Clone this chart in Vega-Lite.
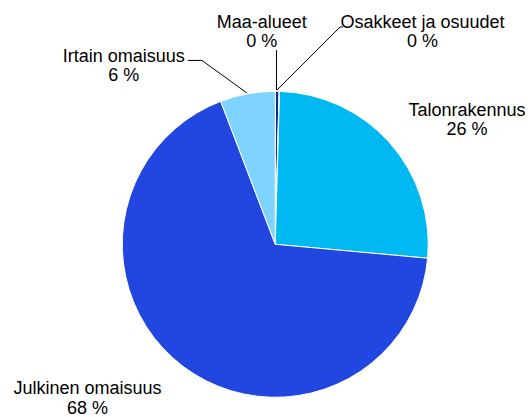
{
  "$schema": "https://vega.github.io/schema/vega-lite/v6.json",
  "width": 530,
  "height": 417,
  "padding": 0,
  "autosize": {"type": "none"},
  "config": {"view": {"stroke": null}, "text": {"font": "Liberation Sans", "fontSize": 18, "lineHeight": 19.5, "lineBreak": "\n", "color": "#000000"}},
  "data": {"values": [
    {"category": "Maa-alueet", "value": 0.4, "ord": 1},
    {"category": "Osakkeet ja osuudet", "value": 0.05, "ord": 2},
    {"category": "Talonrakennus", "value": 26.0, "ord": 3},
    {"category": "Julkinen omaisuus", "value": 67.75, "ord": 4},
    {"category": "Irtain omaisuus", "value": 5.8, "ord": 5}
  ]},
  "encoding": {
    "x": {"datum": 0, "type": "quantitative", "scale": {"domain": [-1.799, 1.665], "nice": false, "zero": false}, "axis": null},
    "y": {"datum": 0, "type": "quantitative", "scale": {"domain": [-1.129, 1.597], "nice": false, "zero": false}, "axis": null}
  },
  "layer": [
    {
      "mark": {"type": "arc", "outerRadius": 153, "stroke": "#ffffff", "strokeWidth": 1},
      "encoding": {
        "theta": {"field": "value", "type": "quantitative", "stack": true},
        "order": {"field": "ord", "type": "quantitative"},
        "color": {"field": "category", "type": "nominal", "legend": null,
          "scale": {"domain": ["Maa-alueet", "Osakkeet ja osuudet", "Talonrakennus", "Julkinen omaisuus", "Irtain omaisuus"],
                    "range": ["#0b2d8c", "#1a1a1a", "#00b9f2", "#2247e1", "#7fd4ff"]}}
      }
    },
    {
      "data": {"values": [{}]},
      "mark": {"type": "rule", "color": "#000000", "strokeWidth": 1},
      "encoding": {"x": {"datum": -0.571}, "y": {"datum": 1.202}, "x2": {"datum": -0.479}, "y2": {"datum": 1.202}}
    },
    {
      "data": {"values": [{}]},
      "mark": {"type": "rule", "color": "#000000", "strokeWidth": 1},
      "encoding": {"x": {"datum": -0.479}, "y": {"datum": 1.202}, "x2": {"datum": -0.185}, "y2": {"datum": 0.989}}
    },
    {
      "data": {"values": [{}]},
      "mark": {"type": "rule", "color": "#000000", "strokeWidth": 1},
      "encoding": {"x": {"datum": 0.008}, "y": {"datum": 1.27}, "x2": {"datum": 0.008}, "y2": {"datum": 1.008}}
    },
    {
      "data": {"values": [{}]},
      "mark": {"type": "rule", "color": "#000000", "strokeWidth": 1},
      "encoding": {"x": {"datum": 0.442}, "y": {"datum": 1.42}, "x2": {"datum": 0.423}, "y2": {"datum": 1.42}}
    },
    {
      "data": {"values": [{}]},
      "mark": {"type": "rule", "color": "#000000", "strokeWidth": 1},
      "encoding": {"x": {"datum": 0.423}, "y": {"datum": 1.42}, "x2": {"datum": 0.011}, "y2": {"datum": 1.008}}
    },
    {
      "transform": [{"calculate": "datum.category + '\\n' + format(datum.value, '.0f') + ' %'", "as": "label"}],
      "layer": [
        {"transform": [{"filter": "datum.category == 'Maa-alueet'"}],
         "mark": {"type": "text", "align": "center", "baseline": "alphabetic"},
         "encoding": {"x": {"datum": -0.088}, "y": {"datum": 1.417}, "text": {"field": "label"}}},
        {"transform": [{"filter": "datum.category == 'Osakkeet ja osuudet'"}],
         "mark": {"type": "text", "align": "center", "baseline": "alphabetic"},
         "encoding": {"x": {"datum": 0.962}, "y": {"datum": 1.417}, "text": {"field": "label"}}},
        {"transform": [{"filter": "datum.category == 'Talonrakennus'"}],
         "mark": {"type": "text", "align": "center", "baseline": "alphabetic"},
         "encoding": {"x": {"datum": 1.253}, "y": {"datum": 0.841}, "text": {"field": "label"}}},
        {"transform": [{"filter": "datum.category == 'Julkinen omaisuus'"}],
         "mark": {"type": "text", "align": "center", "baseline": "alphabetic"},
         "encoding": {"x": {"datum": -1.227}, "y": {"datum": -0.981}, "text": {"field": "label"}}},
        {"transform": [{"filter": "datum.category == 'Irtain omaisuus'"}],
         "mark": {"type": "text", "align": "center", "baseline": "alphabetic"},
         "encoding": {"x": {"datum": -0.99}, "y": {"datum": 1.193}, "text": {"field": "label"}}}
      ]
    }
  ]
}
